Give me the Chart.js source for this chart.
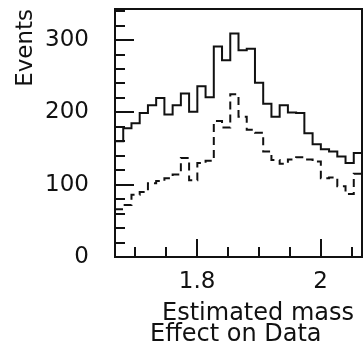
<!DOCTYPE html>
<html>
<head>
<meta charset="utf-8">
<script src="https://cdn.jsdelivr.net/npm/chart.js@4/dist/chart.umd.min.js"></script>
<style>
  html, body { margin: 0; padding: 0; background: #fff; }
  canvas { display: block; }
</style>
</head>
<body>
<canvas id="massChart" width="364" height="355"></canvas>
<script>
// histogram range (estimated mass) and binning
const massLow = 1.667;
const massHigh = 2.067;
const nBins = 30;

// events per bin
const allEvents = [160, 178, 185, 199, 210, 220, 197, 210, 226, 201,
                   236, 221, 291, 272, 309, 286, 288, 241, 212, 194,
                   210, 200, 199, 171, 156, 149, 146, 139, 130, 144];
const effectData = [66, 72, 86, 90, 102, 105, 109, 114, 137, 106,
                    130, 133, 188, 179, 225, 194, 176, 172, 146, 134,
                    129, 135, 138, 135, 132, 109, 110, 98, 87, 115];

// tick labels and tick steps
const yLabels = [0, 100, 200, 300];
const yMax = 343;
const xLabels = [1.8, 2.0];
const xMinorStep = 0.05;
const yMinorStep = 20;

const binWidth = (massHigh - massLow) / nBins;

// turns a bin list into step points (left edges + closing right edge)
function toSteps(values) {
    let pts = [];
    values.forEach((v, i) => {
        pts.push({ x: massLow + i * binWidth, y: v });
    });
    pts.push({ x: massHigh, y: values[values.length - 1] });
    return pts;
}

const FONT = '"DejaVu Sans", sans-serif';
const INK = '#111';

// fixed box sizes, no extra label padding from chart.js
function fixBox(scale, w, h) {
    if (w) scale.width = w;
    if (h) scale.height = h;
    scale.paddingTop = 0;
    scale.paddingBottom = 0;
    scale.paddingLeft = 0;
    scale.paddingRight = 0;
}

// frame + inward tick marks, like the original plot
const framePlugin = {
    id: 'frame',
    afterDatasetsDraw(chart) {
        const ctx = chart.ctx;
        const a = chart.chartArea;
        const xs = chart.scales.x;
        const ys = chart.scales.y;
        ctx.save();
        ctx.strokeStyle = INK;
        ctx.lineWidth = 2;
        ctx.setLineDash([]);
        ctx.strokeRect(a.left, a.top, a.right - a.left, a.bottom - a.top);

        ctx.beginPath();
        // y ticks
        for (let v = 0; v <= yMax; v += yMinorStep) {
            const py = Math.round(ys.getPixelForValue(v));
            const len = yLabels.includes(v) ? 19 : 10;
            ctx.moveTo(a.left, py);
            ctx.lineTo(a.left + len, py);
        }
        // x ticks
        for (let k = 34; k * xMinorStep < massHigh; k++) {
            const v = k * xMinorStep;
            const px = Math.round(xs.getPixelForValue(v));
            const major = xLabels.some(m => Math.abs(m - v) < 1e-6);
            ctx.moveTo(px, a.bottom);
            ctx.lineTo(px, a.bottom - (major ? 18 : 10));
        }
        ctx.stroke();

        // axis caption lines below the plot
        ctx.fillStyle = INK;
        ctx.font = '24px ' + FONT;
        ctx.textBaseline = 'alphabetic';
        ctx.textAlign = 'right';
        ctx.fillText('Estimated mass', 354, 320);
        ctx.textAlign = 'left';
        ctx.fillText('Effect on Data', 150, 341);
        ctx.restore();
    }
};

const ctx = document.getElementById('massChart');
const massChart = new Chart(ctx, {
    type: 'line',
    data: {
        datasets: [{
            label: 'All',
            data: toSteps(allEvents),
            borderColor: INK,
            borderWidth: 2,
            pointRadius: 0,
            stepped: 'before',
            fill: false
        }, {
            label: 'Effect on Data',
            data: toSteps(effectData),
            borderColor: INK,
            borderWidth: 2,
            borderDash: [8, 5],
            pointRadius: 0,
            stepped: 'before',
            fill: false
        }]
    },
    options: {
        responsive: false,
        animation: false,
        devicePixelRatio: 1,
        layout: { padding: { top: 9, right: 2, left: 0, bottom: 0 } },
        plugins: {
            legend: { display: false },
            tooltip: { enabled: false }
        },
        scales: {
            x: {
                type: 'linear',
                min: massLow,
                max: massHigh,
                grid: { display: false, drawTicks: false },
                border: { display: false },
                afterBuildTicks: (scale) => { scale.ticks = xLabels.map(v => ({ value: v })); },
                afterFit: (scale) => fixBox(scale, 0, 98),
                ticks: {
                    autoSkip: false,
                    maxRotation: 0,
                    padding: 14,
                    color: INK,
                    font: { family: FONT, size: 23, lineHeight: 1 },
                    callback: (v) => String(+v.toFixed(1))
                }
            },
            y: {
                min: 0,
                max: yMax,
                grid: { display: false, drawTicks: false },
                border: { display: false },
                afterBuildTicks: (scale) => { scale.ticks = yLabels.map(v => ({ value: v })); },
                afterFit: (scale) => fixBox(scale, 115, 0),
                title: {
                    display: true,
                    text: 'Events',
                    align: 'end',
                    color: INK,
                    padding: { top: 15, bottom: 0 },
                    font: { family: FONT, size: 23, lineHeight: 1 }
                },
                ticks: {
                    padding: 26,
                    color: INK,
                    font: { family: FONT, size: 23, lineHeight: 1 },
                    callback: (v) => String(v)
                }
            }
        }
    },
    plugins: [framePlugin]
});
</script>
</body>
</html>
